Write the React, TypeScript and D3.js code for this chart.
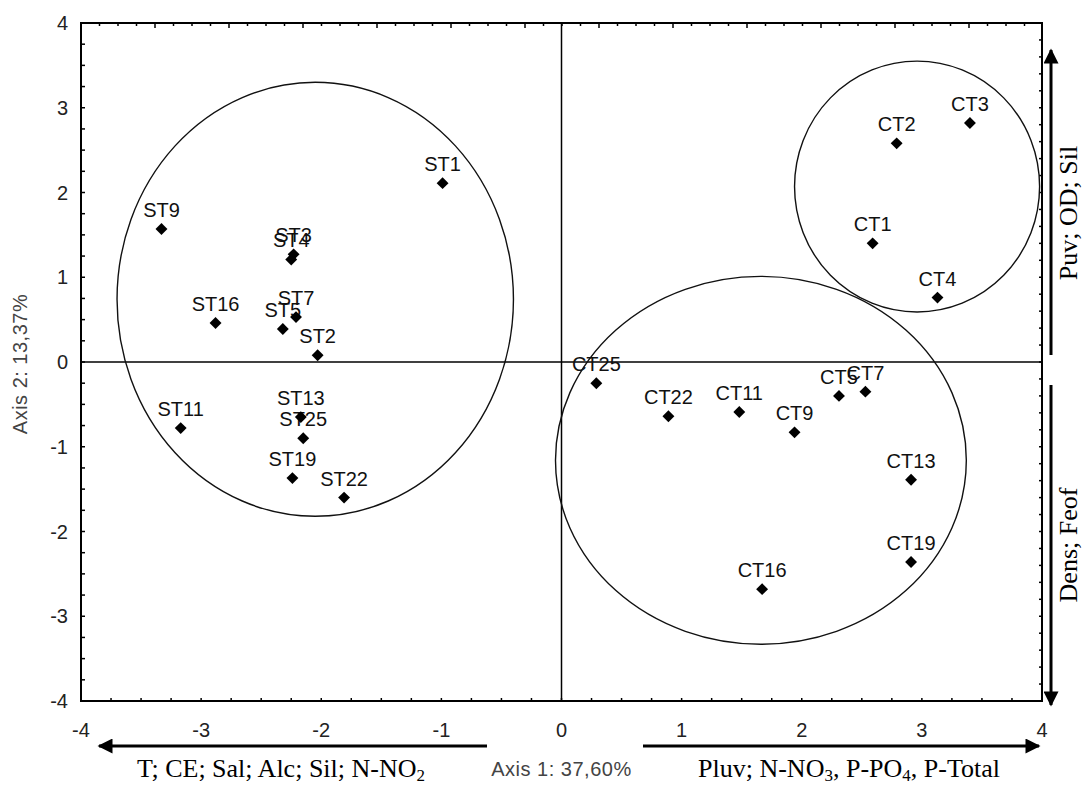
import React from "react";
import * as d3 from "d3";

// sample scores on the first two axes
const labels = ["ST1", "ST2", "ST3", "ST4", "ST5", "ST7", "ST9", "ST11", "ST13", "ST16", "ST19", "ST22", "ST25",
  "CT1", "CT2", "CT3", "CT4", "CT5", "CT7", "CT9", "CT11", "CT13", "CT16", "CT19", "CT22", "CT25"];
const axis1 = [-0.99, -2.03, -2.23, -2.25, -2.32, -2.21, -3.33, -3.17, -2.17, -2.88, -2.24, -1.81, -2.15,
  2.59, 2.79, 3.40, 3.13, 2.31, 2.53, 1.94, 1.48, 2.91, 1.67, 2.91, 0.89, 0.29];
const axis2 = [2.11, 0.08, 1.27, 1.21, 0.39, 0.53, 1.57, -0.78, -0.65, 0.46, -1.37, -1.60, -0.90,
  1.40, 2.58, 2.82, 0.76, -0.40, -0.35, -0.83, -0.59, -1.39, -2.68, -2.36, -0.64, -0.25];

// group ellipses (data units)
const ellCx = [-2.05, 2.96, 1.66];
const ellCy = [0.74, 2.07, -1.16];
const ellRx = [1.65, 1.02, 1.71];
const ellRy = [2.56, 1.48, 2.17];

const xTicks = [-4, -3, -2, -1, 0, 1, 2, 3, 4];
const yTicks = [-4, -3, -2, -1, 0, 1, 2, 3, 4];

const sans = "'Liberation Sans', Arial, sans-serif";
const serif = "'Liberation Serif', 'Times New Roman', serif";

export default function App() {
  const W = 1083, H = 786;
  const left = 81, right = 1042, top = 23, bottom = 701;

  const x = d3.scaleLinear().domain([-4, 4]).range([left, right]);
  const y = d3.scaleLinear().domain([-4, 4]).range([bottom, top]);
  // the top frame carries its own unrelated scale in the original
  const xTop = d3.scaleLinear().domain([0, 13]).range([left, left + 74 * 13]);

  const bottomMinor = d3.range(-4, 4.001, 0.25);
  const leftMinor = d3.range(-4, 4.001, 0.25);
  const rightMinor = d3.range(-4, 4.001, 0.2);
  const topMinor = d3.range(0, 12.99, 0.25);

  const diamond = d3.symbol().type(d3.symbolDiamond2).size(90)();

  return (
    <svg width={W} height={H} style={{ position: "absolute", left: 0, top: 0, background: "#fff" }}>
      <defs>
        <marker id="ah" viewBox="0 0 10 10" refX="9" refY="5" markerWidth="6" markerHeight="5"
          markerUnits="strokeWidth" orient="auto">
          <path d="M0,0 L10,5 L0,10 z" fill="#000" />
        </marker>
      </defs>

      {/* zero lines */}
      <line x1={left} x2={right} y1={y(0)} y2={y(0)} stroke="#000" strokeWidth={1.5} />
      <line x1={x(0)} x2={x(0)} y1={top} y2={bottom} stroke="#000" strokeWidth={1.5} />

      {/* ticks */}
      {bottomMinor.map((t, i) => (
        <line key={"b" + i} x1={x(t)} x2={x(t)} y1={bottom} y2={bottom - 3} stroke="#000" strokeWidth={1.5} />
      ))}
      {leftMinor.map((t, i) => (
        <line key={"l" + i} x1={left} x2={left + 4} y1={y(t)} y2={y(t)} stroke="#000" strokeWidth={1.5} />
      ))}
      {rightMinor.map((t, i) => (
        <line key={"r" + i} x1={right} x2={right - 3} y1={y(t)} y2={y(t)} stroke="#000" strokeWidth={1.5} />
      ))}
      {topMinor.map((t, i) => (
        <line key={"t" + i} x1={xTop(t)} x2={xTop(t)} y1={top} y2={top + (i % 4 === 0 ? 5 : 3)}
          stroke="#000" strokeWidth={1.5} />
      ))}

      {/* frame */}
      <rect x={left} y={top} width={right - left} height={bottom - top} fill="none" stroke="#000" strokeWidth={2} />

      {/* tick labels */}
      {xTicks.map((t) => (
        <text key={"xl" + t} x={x(t)} y={737} textAnchor="middle" fontFamily={sans} fontSize={20} fill="#222">
          {t}
        </text>
      ))}
      {yTicks.map((t) => (
        <text key={"yl" + t} x={68} y={y(t) + 7} textAnchor="end" fontFamily={sans} fontSize={20} fill="#222">
          {t}
        </text>
      ))}

      {/* ellipses */}
      {ellCx.map((c, i) => (
        <ellipse key={"e" + i} cx={x(c)} cy={y(ellCy[i])}
          rx={x(ellRx[i]) - x(0)} ry={y(0) - y(ellRy[i])}
          fill="none" stroke="#111" strokeWidth={1.4} />
      ))}

      {/* point labels */}
      {labels.map((l, i) => (
        <text key={"pl" + l} x={x(axis1[i])} y={y(axis2[i]) - 12} textAnchor="middle"
          fontFamily={sans} fontSize={20} fill="#111">
          {l}
        </text>
      ))}

      {/* markers */}
      {labels.map((l, i) => (
        <path key={"pm" + l} d={diamond} transform={`translate(${x(axis1[i])},${y(axis2[i])})`} fill="#000" />
      ))}

      {/* axis titles */}
      <text x={x(0)} y={776} textAnchor="middle" fontFamily={sans} fontSize={20} letterSpacing={0.5} fill="#444">
        Axis 1: 37,60%
      </text>
      <text transform={`translate(27,${y(0) + 2}) rotate(-90)`} textAnchor="middle" fontFamily={sans}
        fontSize={20} letterSpacing={0.5} fill="#444">
        Axis 2: 13,37%
      </text>

      {/* direction arrows */}
      <line x1={487} x2={99} y1={746} y2={746} stroke="#000" strokeWidth={3} markerEnd="url(#ah)" />
      <line x1={643} x2={1039} y1={746} y2={746} stroke="#000" strokeWidth={3} markerEnd="url(#ah)" />
      <line x1={1051} x2={1051} y1={355} y2={50} stroke="#000" strokeWidth={3} markerEnd="url(#ah)" />
      <line x1={1051} x2={1051} y1={385} y2={705} stroke="#000" strokeWidth={3} markerEnd="url(#ah)" />

      {/* variable labels */}
      <text x={281} y={777} textAnchor="middle" fontFamily={serif} fontSize={26} fill="#000">
        T; CE; Sal; Alc; Sil; N-NO<tspan fontSize={17} dy={4}>2</tspan>
      </text>
      <text x={849} y={777} textAnchor="middle" fontFamily={serif} fontSize={26} fill="#000">
        Pluv; N-NO<tspan fontSize={17} dy={4}>3</tspan>
        <tspan dy={-4}>, P-PO</tspan><tspan fontSize={17} dy={4}>4</tspan>
        <tspan dy={-4}>, P-Total</tspan>
      </text>
      <text transform="translate(1077,213) rotate(-90)" textAnchor="middle" fontFamily={serif} fontSize={26} fill="#000">
        Puv; OD; Sil
      </text>
      <text transform="translate(1077,545) rotate(-90)" textAnchor="middle" fontFamily={serif} fontSize={26} fill="#000">
        Dens; Feof
      </text>
    </svg>
  );
}
